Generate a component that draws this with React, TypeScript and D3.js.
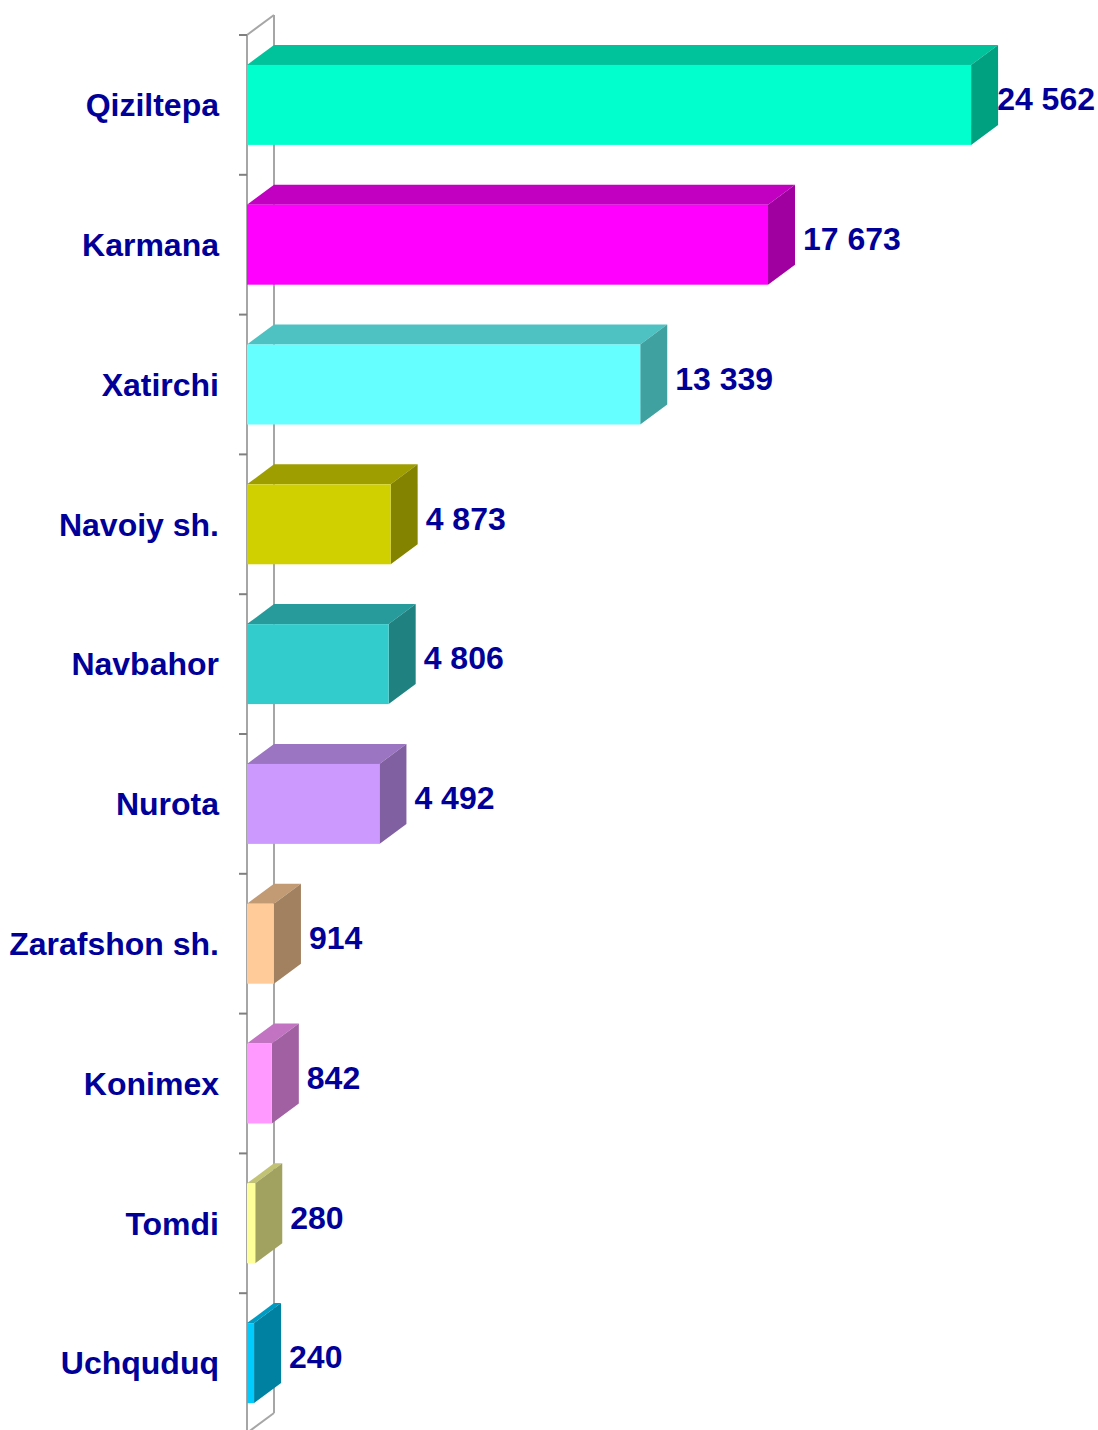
import React from "react";
import * as d3 from "d3";

const categories = [
  "Qiziltepa",
  "Karmana",
  "Xatirchi",
  "Navoiy sh.",
  "Navbahor",
  "Nurota",
  "Zarafshon sh.",
  "Konimex",
  "Tomdi",
  "Uchquduq",
];
const values = [24562, 17673, 13339, 4873, 4806, 4492, 914, 842, 280, 240];
const valueLabels = ["24 562", "17 673", "13 339", "4 873", "4 806", "4 492", "914", "842", "280", "240"];
const frontColors = [
  "#00FFCC",
  "#FF00FF",
  "#66FFFF",
  "#D0D000",
  "#33CCCC",
  "#CC99FF",
  "#FFCC99",
  "#FF99FF",
  "#FFFF99",
  "#00CCFF",
];

const W = 1098;
const H = 1430;
const DX = 27;
const DY = -20;
const FONT = "'Liberation Sans', Arial, sans-serif";
const TEXT = "#000099";
const FS = 32;

function shade(c: string, k: number) {
  const rgb = d3.rgb(c);
  return d3.rgb(rgb.r * k, rgb.g * k, rgb.b * k).formatHex();
}

export default function App() {
  const x = d3.scaleLinear().domain([0, 25000]).range([247, 984]);
  const y = d3.scaleBand<string>().domain(categories).range([35, 1433]).padding(0);
  const step = y.step();
  const barH = step * 0.572;
  const x0 = x(0);
  const yTop = y.range()[0];
  const yBot = y.range()[1];
  const ticks = categories.map((c) => y(c) as number).concat([yBot]);

  return (
    <svg
      width={W}
      height={H}
      style={{ position: "absolute", left: 0, top: 0, background: "#fff" }}
      xmlns="http://www.w3.org/2000/svg"
    >
      {/* wall */}
      <g stroke="#A6A6A6" strokeWidth={2} fill="none">
        <line x1={x0} y1={yTop} x2={x0} y2={yBot} />
        <line x1={x0 + DX} y1={yTop + DY} x2={x0 + DX} y2={yBot + DY} />
        <line x1={x0} y1={yTop} x2={x0 + DX} y2={yTop + DY} />
        <line x1={x0} y1={yBot} x2={x0 + DX} y2={yBot + DY} />
      </g>
      <g stroke="#808080" strokeWidth={2}>
        {ticks.map((t, i) => (
          <line key={i} x1={x0 - 8} x2={x0} y1={t} y2={t} />
        ))}
      </g>
      {/* bars */}
      {categories.map((c, i) => {
        const cy = (y(c) as number) + step / 2;
        const t = cy - barH / 2;
        const b = cy + barH / 2;
        const x1 = x(values[i]);
        const col = frontColors[i];
        const topPts = [
          [x0, t],
          [x0 + DX, t + DY],
          [x1 + DX, t + DY],
          [x1, t],
        ];
        const sidePts = [
          [x1, t],
          [x1 + DX, t + DY],
          [x1 + DX, b + DY],
          [x1, b],
        ];
        return (
          <g key={c}>
            <polygon points={topPts.map((p) => p.join(",")).join(" ")} fill={shade(col, 0.76)} />
            <polygon points={sidePts.map((p) => p.join(",")).join(" ")} fill={shade(col, 0.63)} />
            <rect x={x0} y={t} width={x1 - x0} height={barH} fill={col} />
          </g>
        );
      })}
      {/* category labels */}
      {categories.map((c) => (
        <text
          key={"c" + c}
          x={219}
          y={(y(c) as number) + step / 2}
          dy="0.35em"
          textAnchor="end"
          fontFamily={FONT}
          fontWeight="bold"
          fontSize={FS}
          fill={TEXT}
        >
          {c}
        </text>
      ))}
      {/* value labels */}
      {categories.map((c, i) => {
        const xb = x(values[i]) + DX + 8;
        const estW = valueLabels[i].length * 17.5;
        const overflow = xb + estW > W - 2;
        return (
          <text
            key={"v" + c}
            x={overflow ? W - 3 : xb}
            y={(y(c) as number) + step / 2 - 6}
            dy="0.35em"
            textAnchor={overflow ? "end" : "start"}
            fontFamily={FONT}
            fontWeight="bold"
            fontSize={FS}
            fill={TEXT}
          >
            {valueLabels[i]}
          </text>
        );
      })}
    </svg>
  );
}
